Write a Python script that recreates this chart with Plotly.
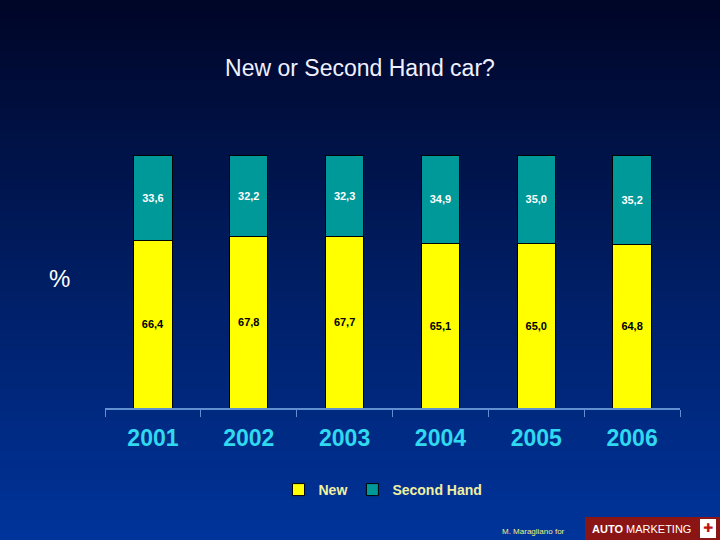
import plotly.graph_objects as go

years = ['2001', '2002', '2003', '2004', '2005', '2006']
new = [66.4, 67.8, 67.7, 65.1, 65.0, 64.8]
second = [33.6, 32.2, 32.3, 34.9, 35.0, 35.2]

def fmt(v):
    return "<b>" + f"{v:.1f}".replace('.', ',') + "</b>"

# pixel -> paper helpers (plot area: x 105..680, y 155..408)
def px(X):
    return (X - 105) / 575

def py(Y):
    return (408 - Y) / 253

fig = go.Figure()
fig.add_trace(go.Bar(x=years, y=new, name='<b>New</b>', marker=dict(color='#ffff00', line=dict(color='black', width=1)),
                     text=[fmt(v) for v in new], textposition='inside', insidetextanchor='middle',
                     textfont=dict(color='black', size=11, family='Liberation Sans')))
fig.add_trace(go.Bar(x=years, y=second, name='<b>Second Hand</b>', marker=dict(color='#009999', line=dict(color='black', width=1)),
                     text=[fmt(v) for v in second], textposition='inside', insidetextanchor='middle',
                     textfont=dict(color='white', size=11, family='Liberation Sans')))

# background gradient made from bands
shapes = []
n = 54
for i in range(n):
    t = i / (n - 1)
    g = int(6 + 46 * t); b = int(40 + 115 * t)
    shapes.append(dict(type='rect', xref='paper', yref='paper', x0=px(-5), x1=px(725),
                       y0=py(i * 10 + 10), y1=py(i * 10),
                       fillcolor=f'rgb(0,{g},{b})', line_width=0, layer='below'))
# logo box
shapes.append(dict(type='rect', xref='paper', yref='paper', x0=px(585), x1=px(721),
                   y0=py(541), y1=py(517), fillcolor='#8b1414', line_width=0))
shapes.append(dict(type='rect', xref='paper', yref='paper', x0=px(700), x1=px(716),
                   y0=py(538), y1=py(519), fillcolor='white', line_width=0))

fig.update_layout(
    width=720, height=540, barmode='stack', bargap=0.6,
    paper_bgcolor='#001a60', plot_bgcolor='rgba(0,0,0,0)',
    margin=dict(l=105, r=40, t=155, b=132),
    shapes=shapes,
    title=dict(text='New or Second Hand car?', x=0.5, xanchor='center', y=1 - 68 / 540, yanchor='middle',
               font=dict(family='Liberation Sans', size=23, color='#f0f0ff')),
    legend=dict(orientation='h', x=px(383), xanchor='center', y=py(490), yanchor='middle',
                bgcolor='rgba(0,0,0,0)', itemwidth=30,
                font=dict(family='Liberation Sans', size=14, color='#f0f0a0'), traceorder='normal'),
    font=dict(family='Liberation Sans'),
)
fig.update_xaxes(showline=True, linecolor='#6090d0', linewidth=2, ticks='outside', tickson='boundaries',
                 tickcolor='#6090d0', ticklen=7, tickvals=years, ticktext=['<b>%s</b>' % y for y in years],
                 ticklabelstandoff=8,
                 tickfont=dict(family='Liberation Sans', size=23, color='#30d8f0'), showgrid=False)
fig.update_yaxes(range=[0, 100], visible=False)

fig.add_annotation(text='%', xref='paper', yref='paper', x=px(47), y=py(278),
                   showarrow=False, font=dict(family='Liberation Sans', size=24, color='white'))
fig.add_annotation(text='M. Maragliano for', xref='paper', yref='paper', x=px(533), y=py(531),
                   xanchor='center', yanchor='middle',
                   showarrow=False, font=dict(family='Liberation Sans', size=8, color='#f0f080'))
fig.add_annotation(text='<b>AUTO</b> MARKETING', xref='paper', yref='paper', x=px(641), y=py(529),
                   xanchor='center', yanchor='middle',
                   showarrow=False, font=dict(family='Liberation Sans', size=11, color='white'))
fig.add_annotation(text='<b>✚</b>', xref='paper', yref='paper', x=px(708), y=py(528),
                   xanchor='center', yanchor='middle',
                   showarrow=False, font=dict(family='DejaVu Sans', size=12, color='#c01010'))

fig.write_html('out.html', config={'displayModeBar': False},
               post_script="document.body.style.margin='0';")
